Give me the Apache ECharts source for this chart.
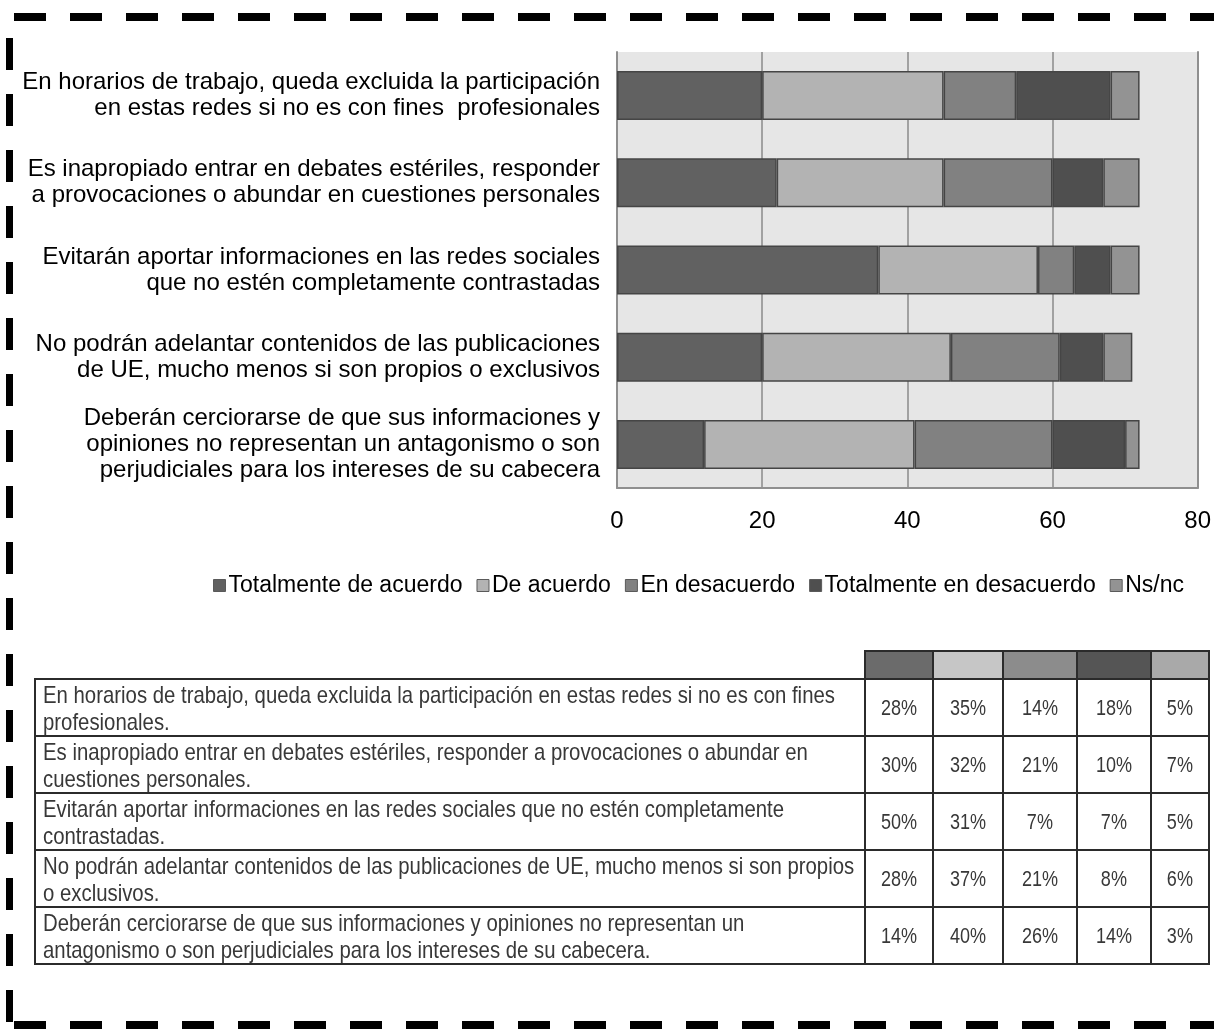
<!DOCTYPE html>
<html>
<head>
<meta charset="utf-8">
<script src="https://cdn.jsdelivr.net/npm/echarts@6/dist/echarts.min.js"></script>
<style>
html,body{margin:0;padding:0;background:#fff;}
#wrap{position:relative;width:1214px;height:1029px;overflow:hidden;}
#chart{position:absolute;left:0;top:0;width:1214px;height:1029px;}
#tbl{position:absolute;left:34px;top:650px;width:1176px;border-collapse:collapse;table-layout:fixed;
  font-family:"Liberation Sans",Arial,sans-serif;color:#383838;}
#tbl td{border:2px solid #2b2b2b;padding:0;overflow:hidden;}
#tbl tr.hd td{height:26px;}
#tbl tr.hd td.blank{border:none;border-bottom:2px solid #2b2b2b;}
#tbl tr.rw td{height:55px;}
#tbl td.txt{vertical-align:top;padding:0 0 0 7px;}
#tbl td.txt div{font-size:24px;line-height:27px;height:27px;white-space:nowrap;transform:scaleX(0.848);transform-origin:0 0;}
#tbl td.txt div:first-child{margin-top:1px;}
#tbl td.pc{text-align:center;vertical-align:middle;}
#tbl td.pc span{display:inline-block;font-size:22px;transform:scaleX(0.82);}
</style>
</head>
<body>
<div id="wrap">
<div id="chart"></div>
<table id="tbl"></table>
</div>
<script>
// ---- data ----
const categories = [
  "En horarios de trabajo, queda excluida la participación\nen estas redes si no es con fines  profesionales",
  "Es inapropiado entrar en debates estériles, responder\na provocaciones o abundar en cuestiones personales",
  "Evitarán aportar informaciones en las redes sociales\nque no estén completamente contrastadas",
  "No podrán adelantar contenidos de las publicaciones\nde UE, mucho menos si son propios o exclusivos",
  "Deberán cerciorarse de que sus informaciones y\nopiniones no representan un antagonismo o son\nperjudiciales para los intereses de su cabecera"
];
const seriesNames = ["Totalmente de acuerdo", "De acuerdo", "En desacuerdo", "Totalmente en desacuerdo", "Ns/nc"];
const totalmenteDeAcuerdo = [20, 22, 36, 20, 12];
const deAcuerdo = [25, 23, 22, 26, 29];
const enDesacuerdo = [10, 15, 5, 15, 19];
const totalmenteEnDesacuerdo = [13, 7, 5, 6, 10];
const nsnc = [4, 5, 4, 4, 2];
const xTickMin = 0, xTickMax = 80, xTickStep = 20;

const tableTexts = [
  ["En horarios de trabajo, queda excluida la participación en estas redes si no es con fines", "profesionales."],
  ["Es inapropiado entrar en debates estériles, responder a provocaciones o abundar en", "cuestiones personales."],
  ["Evitarán aportar informaciones en las redes sociales que no estén completamente", "contrastadas."],
  ["No podrán adelantar contenidos de las publicaciones de UE, mucho menos si son propios", "o exclusivos."],
  ["Deberán cerciorarse de que sus informaciones y opiniones no representan un", "antagonismo o son perjudiciales para los intereses de su cabecera."]
];
const pctTotAcuerdo = [28, 30, 50, 28, 14];
const pctDeAcuerdo = [35, 32, 31, 37, 40];
const pctEnDesacuerdo = [14, 21, 7, 21, 26];
const pctTotDesacuerdo = [18, 10, 7, 8, 14];
const pctNsnc = [5, 7, 5, 6, 3];

// ---- chart ----
const seriesData = [totalmenteDeAcuerdo, deAcuerdo, enDesacuerdo, totalmenteEnDesacuerdo, nsnc];
const colors = ['#616161', '#b3b3b3', '#818181', '#4f4f4f', '#939393'];
const chart = echarts.init(document.getElementById('chart'), null, {renderer: 'canvas'});
const axisLineStyle = {color: '#8f8f8f', width: 2};
chart.setOption({
  animation: false,
  textStyle: {fontFamily: '"Liberation Sans", Arial, sans-serif'},
  grid: {left: 617, right: 16, top: 52, bottom: 541, show: true, backgroundColor: '#e6e6e6', borderWidth: 0},
  xAxis: {
    type: 'value', min: xTickMin, max: xTickMax, interval: xTickStep,
    axisLine: {show: true, lineStyle: axisLineStyle},
    axisTick: {show: false},
    splitLine: {show: true, lineStyle: {color: '#8a8a8a', width: 1.5}},
    axisLabel: {fontSize: 24, color: '#000', margin: 21}
  },
  yAxis: [
    {
      type: 'category', inverse: true, data: categories,
      axisLine: {show: true, lineStyle: axisLineStyle},
      axisTick: {show: false},
      axisLabel: {fontSize: 24, lineHeight: 26, color: '#000', margin: 17, align: 'right'}
    },
    {
      type: 'category', inverse: true, data: categories, position: 'right',
      axisLine: {show: true, onZero: false, lineStyle: axisLineStyle},
      axisTick: {show: false}, axisLabel: {show: false}, splitLine: {show: false}
    }
  ],
  legend: {
    left: 213, top: 574, padding: 0,
    itemWidth: 12, itemHeight: 12, itemGap: 14,
    icon: 'rect',
    itemStyle: {borderColor: '#5a5a5a', borderWidth: 1},
    textStyle: {fontSize: 23, color: '#000', padding: [0, 0, 0, -2]},
    data: seriesNames
  },
  series: seriesNames.map((n, i) => ({
    type: 'bar', name: n, stack: 'total', yAxisIndex: 0,
    data: seriesData[i], barWidth: 49,
    itemStyle: {color: colors[i], borderColor: '#454545', borderWidth: 1.5}
  })),
  graphic: [
    {type: 'line', silent: true, shape: {x1: 14, y1: 17, x2: 1214, y2: 17}, style: {stroke: '#000', lineWidth: 8, lineDash: [32, 24]}},
    {type: 'line', silent: true, shape: {x1: 9.5, y1: 38, x2: 9.5, y2: 1029}, style: {stroke: '#000', lineWidth: 7, lineDash: [32, 24]}},
    {type: 'line', silent: true, shape: {x1: 14, y1: 1025, x2: 1214, y2: 1025}, style: {stroke: '#000', lineWidth: 8, lineDash: [32, 24]}}
  ]
});

// ---- table ----
const headColors = ['#6b6b6b', '#c6c6c6', '#8c8c8c', '#555555', '#a9a9a9'];
const colWidths = [830, 68, 70, 74, 74, 58];
const pctCols = [pctTotAcuerdo, pctDeAcuerdo, pctEnDesacuerdo, pctTotDesacuerdo, pctNsnc];
const tbl = document.getElementById('tbl');
let html = '<colgroup>' + colWidths.map(w => '<col style="width:' + w + 'px">').join('') + '</colgroup>';
html += '<tr class="hd"><td class="blank"></td>' + headColors.map(c => '<td style="background:' + c + '"></td>').join('') + '</tr>';
tableTexts.forEach((t, r) => {
  html += '<tr class="rw"><td class="txt">' + t.map(l => '<div>' + l + '</div>').join('') + '</td>' +
    pctCols.map(col => '<td class="pc"><span>' + col[r] + '%</span></td>').join('') + '</tr>';
});
tbl.innerHTML = html;
</script>
</body>
</html>
